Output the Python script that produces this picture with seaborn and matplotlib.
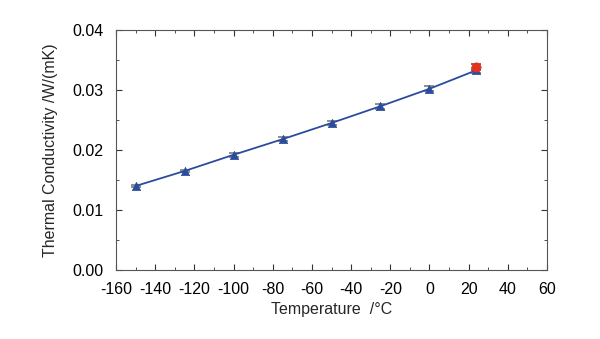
import numpy as np
import pandas as pd
import matplotlib
matplotlib.use("Agg")
import matplotlib.pyplot as plt
import seaborn as sns
from matplotlib.ticker import MultipleLocator, FormatStrFormatter

temperature = [-150, -125, -100, -75, -50, -25, 0, 24]
conductivity = [0.0140, 0.0165, 0.0192, 0.0218, 0.0245, 0.0273, 0.0302, 0.0333]
cond_err = [0.0002, 0.0002, 0.0003, 0.0003, 0.0003, 0.0004, 0.0004, 0.0004]
red_temp = [24]
red_cond = [0.0338]
red_err = [0.0005]

sns.set_theme(style="white")
plt.rcParams['font.family'] = ['Liberation Sans', 'DejaVu Sans']
plt.rcParams['axes.unicode_minus'] = False

df = pd.DataFrame({"T": temperature, "k": conductivity})
dfr = pd.DataFrame({"T": red_temp, "k": red_cond})

fig = plt.figure(figsize=(6.0, 3.39), dpi=100)
ax = fig.add_axes([116/600, 1-270/339, (547-116)/600, (270-30)/339])

blue = "#2b4c9e"
ax.errorbar(temperature, conductivity, yerr=cond_err, fmt="none", ecolor="#7a7a7a",
            elinewidth=1.2, capsize=3.5, capthick=1.2, zorder=2)
ax.errorbar(red_temp, red_cond, yerr=red_err, fmt="none", ecolor="#555555",
            elinewidth=1.2, capsize=3.5, capthick=1.2, zorder=2)
sns.lineplot(data=df, x="T", y="k", ax=ax, color=blue, linewidth=1.3, zorder=3)
sns.scatterplot(data=df, x="T", y="k", ax=ax, marker="^", color=blue, s=36,
                edgecolor=blue, zorder=4)
sns.scatterplot(data=dfr, x="T", y="k", ax=ax, marker="o", color="#e5321c", s=44,
                edgecolor="#e5321c", zorder=5)

ax.set_xlim(-160, 60)
ax.set_ylim(0, 0.04)
ax.xaxis.set_major_locator(MultipleLocator(20))
ax.xaxis.set_minor_locator(MultipleLocator(10))
ax.yaxis.set_major_locator(MultipleLocator(0.01))
ax.yaxis.set_minor_locator(MultipleLocator(0.005))
ax.yaxis.set_major_formatter(FormatStrFormatter("%.2f"))
ax.tick_params(which="both", direction="in", top=True, right=True, bottom=True, left=True,
               colors="#333333", labelcolor="black", labelsize=11.5)
ax.tick_params(which="major", length=4, width=0.8)
ax.tick_params(which="minor", length=2, width=0.6)
ax.tick_params(axis="x", which="major", pad=9)
ax.tick_params(axis="y", which="major", pad=9)
for s in ax.spines.values():
    s.set_color("#555555")
    s.set_linewidth(0.8)

ax.set_xlabel("Temperature  /°C", fontsize=11.5, labelpad=3)
ax.set_ylabel("Thermal Conductivity /W/(mK)", fontsize=11.5, labelpad=10)

fig.savefig("out.png", dpi=100)
